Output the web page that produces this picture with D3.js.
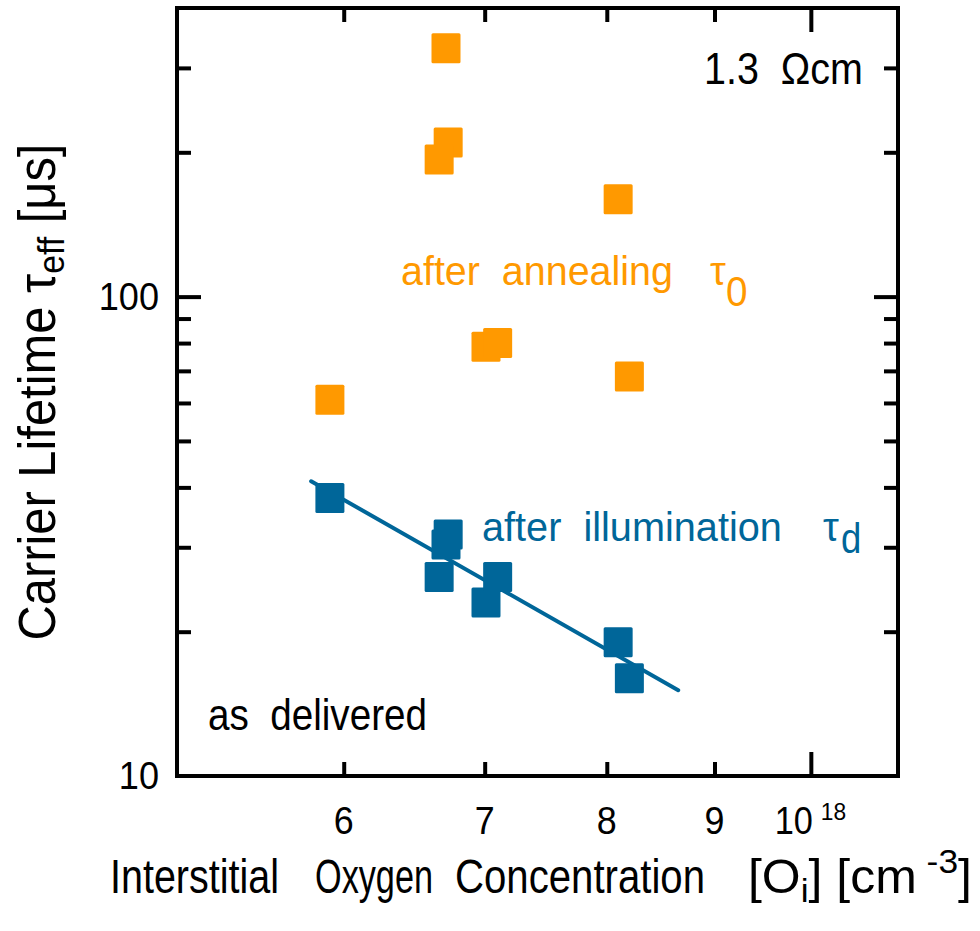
<!DOCTYPE html>
<html>
<head>
<meta charset="utf-8">
<script src="https://cdn.jsdelivr.net/npm/d3@7"></script>
<style>
  body { margin: 0; background: #fff; }
  svg { display: block; }
  text { font-family: "Liberation Sans", Arial, Helvetica, sans-serif; white-space: pre; }
</style>
</head>
<body>
<svg id="chart" width="980" height="931"></svg>
<script>
// Interstitial oxygen concentration of each wafer, in units of 1e18 cm^-3
const oxygenConc = [5.91, 6.71, 6.726, 6.66, 7.01, 7.10, 8.10, 8.20];
// Effective lifetime after annealing (tau_0), µs
const tauAnnealed = [60.9, 329.6, 209.6, 193.2, 78.6, 80.0, 159.7, 68.1];
// Effective lifetime after illumination (tau_d), µs
const tauIlluminated = [38.0, 30.4, 31.9, 26.0, 23.0, 26.0, 19.0, 16.0];
// Power-law fit through the degraded lifetimes (end points)
const fitConc = [5.79, 8.65];
const fitTau = [41.2, 15.1];

// Axis ticks
const xMinorTicks = [6, 7, 8, 9];
const xMajorTicks = [10];
const xTickLabels = ["6", "7", "8", "9", "10"];
const yMinorTicks = [20, 30, 40, 50, 60, 70, 80, 90, 200, 300];
const yMajorTicks = [100];
const yTickLabels = [10, 100];

const ORANGE = "#ff9900";
const BLUE = "#006699";

const svg = d3.select("#chart");

const plot = { left: 177, right: 898, top: 8, bottom: 776 };

const x = d3.scaleLog().domain([5, 11]).range([plot.left, plot.right]);
const y = d3.scaleLog().domain([10, 400]).range([plot.bottom, plot.top]);

// Inward-pointing ticks on all four sides
function tickAxis(axisFn, scale, values, len, transform) {
  const g = svg.append("g")
    .attr("transform", transform)
    .call(axisFn(scale).tickValues(values).tickSize(-len).tickSizeOuter(0).tickFormat(""));
  g.select(".domain").remove();
  g.selectAll(".tick line").attr("stroke", "#000").attr("stroke-width", 4);
  return g;
}
tickAxis(d3.axisBottom, x, xMinorTicks, 14, `translate(0,${plot.bottom})`);
tickAxis(d3.axisBottom, x, xMajorTicks, 24, `translate(0,${plot.bottom})`);
tickAxis(d3.axisTop, x, xMinorTicks, 14, `translate(0,${plot.top})`);
tickAxis(d3.axisTop, x, xMajorTicks, 24, `translate(0,${plot.top})`);
tickAxis(d3.axisLeft, y, yMinorTicks, 14, `translate(${plot.left},0)`);
tickAxis(d3.axisLeft, y, yMajorTicks, 24, `translate(${plot.left},0)`);
tickAxis(d3.axisRight, y, yMinorTicks, 14, `translate(${plot.right},0)`);
tickAxis(d3.axisRight, y, yMajorTicks, 24, `translate(${plot.right},0)`);

// Frame
svg.append("rect")
  .attr("x", plot.left).attr("y", plot.top)
  .attr("width", plot.right - plot.left).attr("height", plot.bottom - plot.top)
  .attr("fill", "none").attr("stroke", "#000").attr("stroke-width", 4);

// Text helper: label built from parts [{t, size, dy}], horizontally
// condensed either by a fixed factor (cond) or to fit a given width.
function label(px, py, parts, opts = {}) {
  const rot = opts.rotate ? ` rotate(${opts.rotate})` : "";
  const t = svg.append("text")
    .attr("text-anchor", opts.anchor || "start")
    .attr("fill", opts.color || "#000");
  parts.forEach(p => {
    t.append("tspan")
      .attr("dy", p.dy || 0)
      .style("font-size", p.size + "px")
      .text(p.t);
  });
  let cond = opts.cond ?? 1;
  if (opts.width) cond = opts.width / t.node().getComputedTextLength();
  t.attr("transform", `translate(${px},${py})${rot} scale(${cond},1)`);
  return t;
}

// X tick labels
xTickLabels.forEach(s => {
  const v = +s;
  if (v === 10) {
    label(x(v) + 2, 834, [{ t: "10", size: 39 }], { anchor: "end", cond: 0.88 });
    label(x(v) + 10, 820, [{ t: "18", size: 24 }], { cond: 0.95 });
  } else {
    label(x(v), 834, [{ t: s, size: 39 }], { anchor: "middle", cond: 0.92 });
  }
});

// Y tick labels
yTickLabels.forEach(v => {
  label(159, y(v) + 13, [{ t: String(v), size: 38 }], { anchor: "end", cond: 0.95 });
});

// Axis titles
label(55, 392, [
  { t: "Carrier Lifetime τ", size: 52 },
  { t: "eff", size: 36, dy: 9 },
  { t: " [μs]", size: 52, dy: -9 }
], { rotate: -90, anchor: "middle", width: 497 });

label(110, 893, [{ t: "Interstitial", size: 48 }], { width: 169 });
label(315, 893, [{ t: "Oxygen", size: 48 }], { width: 118 });
label(455, 893, [{ t: "Concentration", size: 48 }], { width: 250 });
label(748, 893, [
  { t: "[O", size: 48 },
  { t: "i", size: 34, dy: 9 },
  { t: "] [cm", size: 48, dy: -9 },
  { t: " -3", size: 34, dy: -20 },
  { t: "]", size: 48, dy: 20 }
], { width: 224 });

// Fit line
const line = d3.line().x(d => x(d[0])).y(d => y(d[1]));
svg.append("path")
  .datum(d3.zip(fitConc, fitTau))
  .attr("d", line)
  .attr("fill", "none")
  .attr("stroke", BLUE)
  .attr("stroke-width", 4)
  .attr("stroke-linecap", "round");

// Square markers
const SQ_W = 29, SQ_H = 30;
function squares(vals, color) {
  svg.append("g").selectAll("rect")
    .data(d3.zip(oxygenConc, vals))
    .join("rect")
    .attr("x", d => x(d[0]) - SQ_W / 2)
    .attr("y", d => y(d[1]) - SQ_H / 2)
    .attr("width", SQ_W).attr("height", SQ_H)
    .attr("rx", 1.5)
    .attr("fill", color);
}
squares(tauAnnealed, ORANGE);
squares(tauIlluminated, BLUE);

// Annotations
label(704, 84, [{ t: "1.3  Ωcm", size: 44 }], { width: 159 });
label(401, 285, [{ t: "after  annealing", size: 40 }], { color: ORANGE, width: 272 });
label(710, 285, [{ t: "τ", size: 40 }], { color: ORANGE });
label(726, 306, [{ t: "0", size: 43 }], { color: ORANGE, cond: 0.9 });
label(482, 541, [{ t: "after  illumination", size: 40 }], { color: BLUE, width: 300 });
label(823, 541, [{ t: "τ", size: 40 }], { color: BLUE });
label(841, 553, [{ t: "d", size: 43 }], { color: BLUE, cond: 0.85 });
label(208, 730, [{ t: "as  delivered", size: 45 }], { width: 219 });
</script>
</body>
</html>
